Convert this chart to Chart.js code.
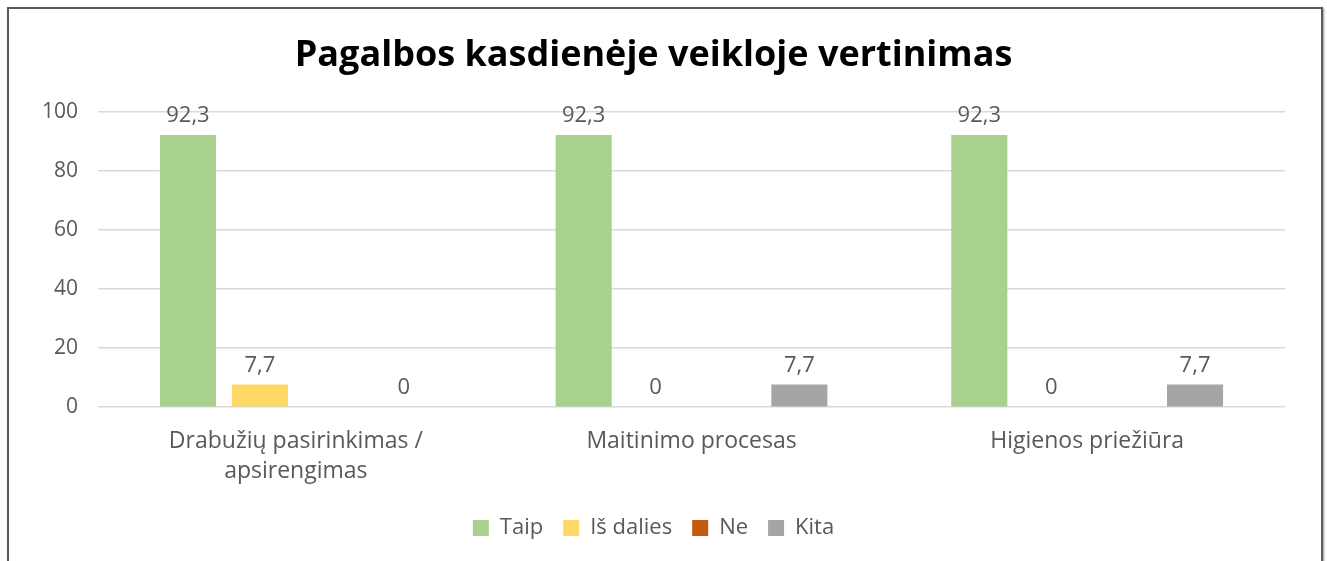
<!DOCTYPE html>
<html>
<head>
<meta charset="utf-8">
<script src="https://cdn.jsdelivr.net/npm/chart.js@4"></script>
<style>
  html, body { margin: 0; padding: 0; background: #fff; }
  #wrap { position: relative; width: 1327px; height: 561px; overflow: hidden; }
  #frame { position: absolute; left: 7px; top: 7px; width: 1312px; height: 570px;
           border: 2px solid #5a5a5a; box-shadow: 1px 1px 2px #999; }
  canvas { position: absolute; left: 0; top: 0; }
</style>
</head>
<body>
<div id="wrap">
  <div id="frame"></div>
  <canvas id="chart" width="1327" height="561"></canvas>
</div>
<script>
var categories = [["Drabužių pasirinkimas /", "apsirengimas"], "Maitinimo procesas", "Higienos priežiūra"];
var taip = [92.3, 92.3, 92.3];
var isDalies = [7.7, 0, 0];
var ne = [null, null, null];
var kita = [0, 7.7, 7.7];
var yTicks = [0, 20, 40, 60, 80, 100];

var fontName = "'Open Sans', sans-serif";
var textGray = "#595959";

// value labels above bars, comma decimal
var barLabels = {
    id: "barLabels",
    afterDatasetsDraw: function(chart) {
        var ctx = chart.ctx;
        ctx.save();
        ctx.font = "22px " + fontName;
        ctx.fillStyle = textGray;
        ctx.textAlign = "center";
        ctx.textBaseline = "bottom";
        chart.data.datasets.forEach(function(ds, i) {
            var meta = chart.getDatasetMeta(i);
            meta.data.forEach(function(bar, j) {
                var v = ds.data[j];
                if (v === null) return;
                ctx.fillText(String(v).replace(".", ","), bar.x, bar.y - 8);
            });
        });
        ctx.restore();
    }
};

var ctx = document.getElementById("chart");
var chart = new Chart(ctx, {
    type: "bar",
    data: {
        labels: categories,
        datasets: [
            { label: "Taip", data: taip, backgroundColor: "#A9D18E" },
            { label: "Iš dalies", data: isDalies, backgroundColor: "#FFD966" },
            { label: "Ne", data: ne, backgroundColor: "#C55A11" },
            { label: "Kita", data: kita, backgroundColor: "#A5A5A5" }
        ]
    },
    options: {
        responsive: false,
        animation: false,
        events: [],
        layout: { padding: { left: 22, right: 42, top: 0, bottom: 12 } },
        datasets: { bar: { categoryPercentage: 0.727, barPercentage: 0.78 } },
        plugins: {
            title: {
                display: true,
                text: "Pagalbos kasdienėje veikloje vertinimas",
                color: "#000",
                font: { family: fontName, size: 36, weight: "bold" },
                padding: { top: 34, bottom: 35 }
            },
            legend: {
                position: "bottom",
                labels: {
                    color: textGray,
                    font: { family: fontName, size: 22 },
                    boxWidth: 16,
                    boxHeight: 16,
                    padding: 20
                }
            },
            tooltip: { enabled: false }
        },
        scales: {
            x: {
                grid: { display: false },
                border: { display: false },
                ticks: {
                    color: textGray,
                    font: { family: fontName, size: 23, lineHeight: 1.3 },
                    maxRotation: 0,
                    padding: 11
                }
            },
            y: {
                min: 0,
                max: 100,
                afterBuildTicks: function(axis) {
                    axis.ticks = yTicks.map(function(v) { return { value: v }; });
                },
                grid: { color: "#D9D9D9", lineWidth: 1.5, drawTicks: false },
                border: { display: false },
                ticks: {
                    color: textGray,
                    font: { family: fontName, size: 21 },
                    padding: 20
                }
            }
        }
    },
    plugins: [barLabels]
});
</script>
</body>
</html>
